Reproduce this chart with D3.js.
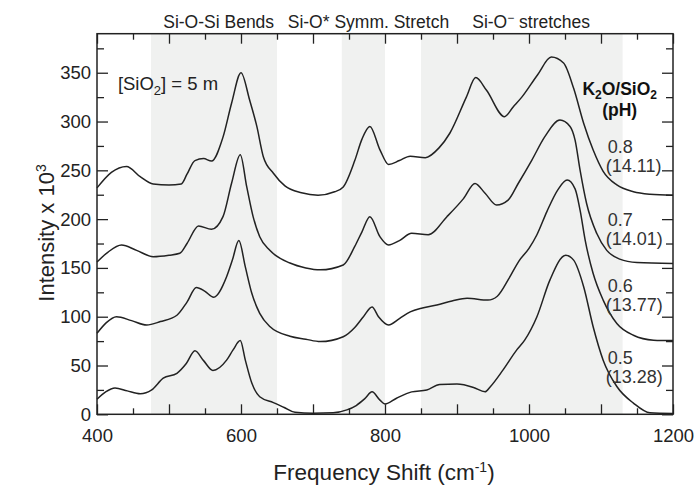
<!DOCTYPE html>
<html>
<head>
<meta charset="utf-8">
<script src="https://cdn.jsdelivr.net/npm/d3@7"></script>
<style>
  html, body { margin: 0; padding: 0; background: #fff; }
  svg { display: block; font-family: "Liberation Sans", Arial, Helvetica, sans-serif; }
</style>
</head>
<body>
<svg id="chart" width="699" height="486"></svg>
<script>
// Raman spectra of potassium silicate solutions, [SiO2] = 5 m, offset by K2O/SiO2 ratio

// Raman shift (cm-1) and intensity (x 10^3) for each K2O/SiO2 ratio
const shift08 = [400, 420, 441, 460, 478, 500, 517, 525, 536, 548, 559, 575, 587, 600, 612, 622, 631, 645, 661, 684, 707, 730, 742, 758, 768, 779, 793, 805, 820, 835, 856, 875, 890, 913, 926, 941, 966, 978, 990, 1012, 1031, 1048, 1062, 1076, 1089, 1103, 1122, 1145, 1168, 1200];
const inten08 = [232, 248, 254, 243.5, 236, 235, 236, 246, 260, 262, 259.5, 284, 319, 350, 322, 295, 264, 247, 234, 227, 224.5, 228, 233, 260, 282, 295, 271, 256, 260, 264.5, 263, 273, 288, 325, 345, 332, 305, 315, 325, 348, 366, 360, 334, 298, 271, 249, 235, 228, 225.5, 224.5];

const shift07 = [400, 415, 434, 455, 478, 500, 515, 525, 541, 559, 575, 587, 599, 608, 617, 626, 640, 668, 690, 710, 742, 758, 768, 779, 793, 805, 820, 837, 860, 886, 909, 925, 939, 955, 971, 985, 1004, 1022, 1043, 1057, 1064, 1071, 1080, 1094, 1108, 1126, 1150, 1200];
const inten07 = [156, 166, 173.5, 168, 161.5, 163, 165, 175, 193, 189.5, 202.5, 237, 266, 233, 202, 182, 168, 155, 150, 148, 153, 172, 187, 202.5, 182, 173.5, 178, 185.5, 184, 202.5, 221, 236.5, 226.5, 214.5, 219.5, 236.5, 260.5, 284.5, 301.5, 295, 281, 250, 216, 185.5, 168, 159, 155.5, 154.5];

const shift06 = [400, 413, 427, 448, 469, 488, 511, 525, 538, 550, 562, 580, 588, 597, 606, 615, 626, 640, 668, 690, 710, 742, 758, 770, 782, 791, 805, 820, 835, 852, 872, 893, 914, 943, 956, 972, 986, 1000, 1011, 1025, 1040, 1053, 1064, 1071, 1078, 1089, 1103, 1122, 1145, 1173, 1200];
const inten06 = [83, 94, 100, 96, 91.5, 95, 101.5, 115, 130, 126, 120, 141, 158, 178, 151, 124, 103.5, 90, 80, 77, 74.5, 79.5, 89, 100, 110, 100, 91.5, 98, 105, 109, 112, 116, 119, 117, 121, 139, 157, 170, 184, 208, 230, 240, 231, 209, 178.5, 144.5, 117, 93, 81, 76, 75.5];

const shift05 = [400, 412, 425, 442, 460, 476, 492, 511, 524, 536, 548, 561, 580, 589, 599, 606, 615, 626, 645, 660, 675, 700, 728, 747, 760, 772, 782, 793, 800, 816, 837, 858, 876, 900, 923, 939, 946, 964, 983, 994, 1011, 1029, 1051, 1062, 1076, 1089, 1103, 1122, 1145, 1168, 1200];
const inten05 = [15.5, 23, 27, 24, 21, 25, 37, 42, 52, 65, 55, 45, 55.5, 66, 75.5, 55.5, 32, 18, 12, 7, 2, 1, 1.5, 4.5, 9, 16, 23, 14.5, 10.5, 16.5, 23, 25, 30.5, 31, 27.5, 23, 28, 45.5, 66, 76, 100, 137.5, 163, 158, 130.5, 90, 55.5, 28.5, 11.5, 1.5, 0.8];

// Series labels: ratio and pH, with their anchor (shift, intensity) for the text
const ratios = ["0.8", "0.7", "0.6", "0.5"];
const pHs = ["(14.11)", "(14.01)", "(13.77)", "(13.28)"];
const labelShift = 1108;
const labelLevel = [268, 193, 125, 52];
const headerShift = 1126;

// Assigned vibrational regions (cm-1)
const bandNames = ["Si-O-Si Bends", "Si-O* Symm. Stretch", "Si-O\u2212 stretches"];
const bandStart = [475, 740, 850];
const bandEnd = [650, 800, 1130];
const bandLabelAt = [569, 777, 1003];

// Axis ticks
const xTicks = d3.range(400, 1201, 50);
const xLabels = [400, 600, 800, 1000, 1200];
const yTicks = d3.range(0, 376, 25);
const yLabels = [0, 50, 100, 150, 200, 250, 300, 350];

const series = [
  { shift: shift08, inten: inten08 },
  { shift: shift07, inten: inten07 },
  { shift: shift06, inten: inten06 },
  { shift: shift05, inten: inten05 }
];

const svg = d3.select("#chart");
const W = 699, H = 486;
const margin = { left: 97, right: 26, top: 33.7, bottom: 71.7 };
const x = d3.scaleLinear().domain([400, 1200]).range([margin.left, W - margin.right]);
const y = d3.scaleLinear().domain([0, 390]).range([H - margin.bottom, margin.top]);

const ink = "#222";

svg.append("rect").attr("width", W).attr("height", H).attr("fill", "#fff");

// shaded regions
svg.append("g").selectAll("rect")
  .data(bandStart)
  .join("rect")
  .attr("x", (d) => x(d))
  .attr("width", (d, i) => x(bandEnd[i]) - x(d))
  .attr("y", y(390))
  .attr("height", y(0) - y(390))
  .attr("fill", "#f0f1f0");

// region titles above the frame
svg.append("g").selectAll("text")
  .data(bandNames)
  .join("text")
  .attr("x", (d, i) => x(bandLabelAt[i]))
  .attr("y", y(396))
  .attr("text-anchor", "middle")
  .attr("font-size", 17.5)
  .attr("fill", ink)
  .each(function (d) {
    const t = d3.select(this);
    if (d.endsWith("stretches")) {
      t.append("tspan").text("Si-O");
      t.append("tspan").attr("dy", -6).attr("font-size", 12).text("\u2212");
      t.append("tspan").attr("dy", 6).text(" stretches");
    } else {
      t.text(d);
    }
  });

// spectra
const line = d3.line()
  .x((d) => x(d[0]))
  .y((d) => y(d[1]))
  .curve(d3.curveMonotoneX);

svg.append("g").selectAll("path")
  .data(series)
  .join("path")
  .attr("d", (s) => line(s.shift.map((f, i) => [f, s.inten[i]])))
  .attr("fill", "none")
  .attr("stroke", ink)
  .attr("stroke-width", 1.5)
  .attr("stroke-linejoin", "round");

// axes with inward ticks on all four sides
const tickLen = (major) => (major ? 10 : 6);

const gB = svg.append("g").attr("transform", `translate(0,${y(0)})`)
  .call(d3.axisBottom(x).tickValues(xTicks).tickSizeOuter(0)
    .tickFormat((d) => (xLabels.includes(d) ? d : "")));
gB.selectAll(".tick line").attr("y2", (d) => -tickLen(d % 100 === 0));
gB.selectAll(".tick text").attr("y", 15).attr("dy", "0.71em");

const gT = svg.append("g").attr("transform", `translate(0,${y(390)})`)
  .call(d3.axisTop(x).tickValues(xTicks).tickSizeOuter(0).tickFormat(""));
gT.selectAll(".tick line").attr("y2", (d) => tickLen(d % 100 === 0));

const gL = svg.append("g").attr("transform", `translate(${x(400)},0)`)
  .call(d3.axisLeft(y).tickValues(yTicks).tickSizeOuter(0)
    .tickFormat((d) => (yLabels.includes(d) ? d : "")));
gL.selectAll(".tick line").attr("x2", (d) => tickLen(d % 50 === 0) + 1);
gL.selectAll(".tick text").attr("x", -6);

const gR = svg.append("g").attr("transform", `translate(${x(1200)},0)`)
  .call(d3.axisRight(y).tickValues(yTicks).tickSizeOuter(0).tickFormat(""));
gR.selectAll(".tick line").attr("x2", (d) => -(tickLen(d % 50 === 0) + 1));

[gB, gT, gL, gR].forEach((g) => {
  g.select(".domain").remove();
  g.selectAll(".tick line").attr("stroke", ink).attr("stroke-width", 1.3);
  g.selectAll(".tick text").attr("fill", ink).attr("font-size", 18.5)
    .attr("font-family", "Liberation Sans, Arial, sans-serif");
});

// frame
svg.append("rect")
  .attr("x", x(400)).attr("y", y(390))
  .attr("width", x(1200) - x(400)).attr("height", y(0) - y(390))
  .attr("fill", "none").attr("stroke", ink).attr("stroke-width", 1.5);

// axis titles
const xt = svg.append("text")
  .attr("x", (x(400) + x(1200)) / 2 - 1)
  .attr("y", 480)
  .attr("text-anchor", "middle")
  .attr("font-size", 22.5)
  .attr("fill", ink);
xt.append("tspan").text("Frequency Shift (cm");
xt.append("tspan").attr("dy", -8).attr("font-size", 14).text("-1");
xt.append("tspan").attr("dy", 8).text(")");

const yt = svg.append("text")
  .attr("transform", `translate(54,${(y(0) + y(390)) / 2 + 9}) rotate(-90)`)
  .attr("text-anchor", "middle")
  .attr("font-size", 22)
  .attr("fill", ink);
yt.append("tspan").text("Intensity x 10");
yt.append("tspan").attr("dy", -8).attr("font-size", 14).text("3");

// concentration note
const note = svg.append("text")
  .attr("x", x(429)).attr("y", y(332))
  .attr("font-size", 18.5)
  .attr("fill", ink);
note.append("tspan").text("[SiO");
note.append("tspan").attr("dy", 5).attr("font-size", 13).text("2");
note.append("tspan").attr("dy", -5).text("] = 5 m");

// legend header
const head = svg.append("text")
  .attr("x", x(headerShift)).attr("y", y(327))
  .attr("text-anchor", "middle")
  .attr("font-size", 17.5)
  .attr("font-weight", "bold")
  .attr("fill", "#111");
head.append("tspan").text("K");
head.append("tspan").attr("dy", 4).attr("font-size", 12).text("2");
head.append("tspan").attr("dy", -4).text("O/SiO");
head.append("tspan").attr("dy", 4).attr("font-size", 12).text("2");
svg.append("text")
  .attr("x", x(headerShift)).attr("y", y(306))
  .attr("text-anchor", "middle")
  .attr("font-size", 17.5)
  .attr("font-weight", "bold")
  .attr("fill", "#111")
  .text("(pH)");

// per-series ratio and pH labels
const lab = svg.append("g").attr("font-size", 18).attr("fill", "#333");
lab.selectAll("text.ratio")
  .data(ratios)
  .join("text")
  .attr("class", "ratio")
  .attr("x", x(labelShift) + 1)
  .attr("y", (d, i) => y(labelLevel[i]))
  .text((d) => d);
lab.selectAll("text.ph")
  .data(pHs)
  .join("text")
  .attr("class", "ph")
  .attr("x", x(labelShift) - 1)
  .attr("y", (d, i) => y(labelLevel[i]) + 19)
  .text((d) => d);
</script>
</body>
</html>
